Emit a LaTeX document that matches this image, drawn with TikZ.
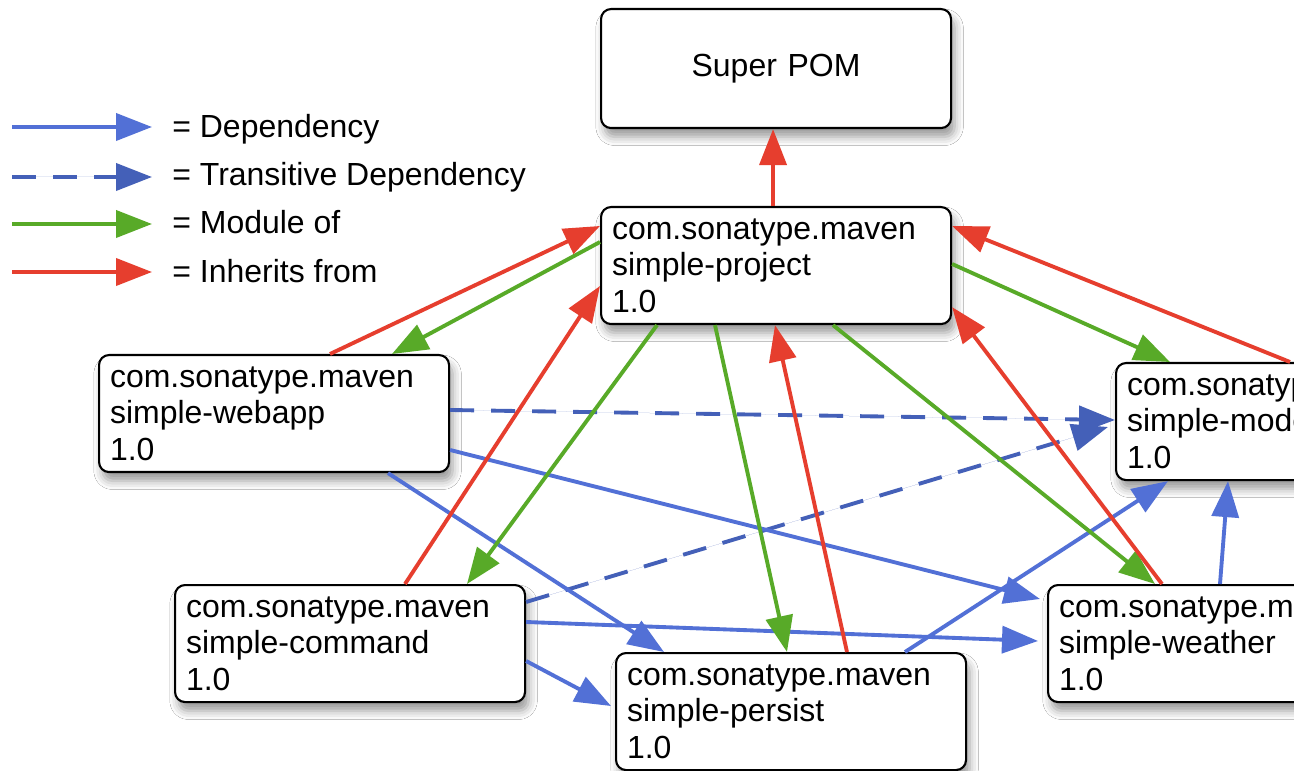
\documentclass[tikz,border=0pt]{standalone}
\usepackage{fontspec}
\setmainfont{Liberation Sans}
\usetikzlibrary{arrows.meta,shadows.blur}
\definecolor{depblue}{RGB}{82,112,214}
\definecolor{trblue}{RGB}{68,96,184}
\definecolor{modgreen}{RGB}{88,170,40}
\definecolor{inhred}{RGB}{230,62,46}
\tikzset{
  pombox/.style={draw=black, line width=1.2pt, rounded corners=0.2cm, fill=white,
    minimum width=7cm, minimum height=2.34cm, text width=6.56cm,
    inner xsep=0.22cm, inner ysep=0pt, align=left, anchor=north west,
    font=\fontsize{18.2pt}{20.8pt}\selectfont,
    blur shadow={shadow xshift=2pt, shadow yshift=-5pt, shadow blur radius=5pt, shadow opacity=40}},
  conn/.style={line width=2.2pt, -{Triangle[length=0.72cm,width=0.54cm]}},
  dep/.style={conn, draw=depblue, fill=depblue},
  trdep/.style={conn, draw=trblue, fill=trblue, dash pattern=on 0.48cm off 0.34cm},
  modof/.style={conn, draw=modgreen, fill=modgreen},
  inh/.style={conn, draw=inhred, fill=inhred},
  legtext/.style={anchor=base west, inner sep=0pt, font=\fontsize{18.2pt}{20.8pt}\selectfont}
}
\begin{document}
\begin{tikzpicture}
\clip (0,0) rectangle (25.88,-15.42);
\fill[white] (0,0) rectangle (25.88,-15.42);

% boxes
\node[pombox, align=center, minimum height=2.38cm] (superpom) at (12.0,-0.16) {Super POM};
\node[pombox] (project) at (12.0,-4.12) {com.sonatype.maven\\simple-project\\1.0};
\node[pombox] (webapp) at (1.96,-7.08) {com.sonatype.maven\\simple-webapp\\1.0};
\node[pombox] (model) at (22.30,-7.24) {com.sonatype.maven\\simple-model\\1.0};
\node[pombox] (command) at (3.48,-11.68) {com.sonatype.maven\\simple-command\\1.0};
\node[pombox] (weather) at (20.94,-11.68) {com.sonatype.maven\\simple-weather\\1.0};
\node[pombox] (persist) at (12.30,-13.04) {com.sonatype.maven\\simple-persist\\1.0};

% legend
\coordinate (l1a) at (0.24,-2.54); \coordinate (l1b) at (3.04,-2.54);
\coordinate (l2a) at (0.24,-3.54); \coordinate (l2b) at (3.04,-3.54);
\coordinate (l3a) at (0.24,-4.48); \coordinate (l3b) at (3.04,-4.48);
\coordinate (l4a) at (0.24,-5.44); \coordinate (l4b) at (3.04,-5.44);
\draw[dep] (l1a) -- (l1b);
\draw[trdep] (l2a) -- (l2b);
\draw[modof] (l3a) -- (l3b);
\draw[inh] (l4a) -- (l4b);
\node[legtext] (t1) at (3.44,-2.76) {= Dependency};
\node[legtext] (t2) at (3.44,-3.72) {= Transitive Dependency};
\node[legtext] (t3) at (3.44,-4.68) {= Module of};
\node[legtext] (t4) at (3.44,-5.66) {= Inherits from};

% transitive dependencies
\draw[trdep] ([shift={(0,-1.12)}]webapp.north east) -- ([shift={(0,-1.16)}]model.north west);
\draw[trdep] ([shift={(0,-0.36)}]command.north east) -- ([shift={(-0.14,-1.3)}]model.north west);

% dependencies
\draw[dep] ([shift={(0,-1.92)}]webapp.north east) -- ([shift={(-0.14,-0.3)}]weather.north west);
\draw[dep] ([shift={(5.8,0)}]webapp.south west) -- ([shift={(0.98,0)}]persist.north west);
\draw[dep] ([shift={(0,-0.76)}]command.north east) -- ([shift={(-0.18,-1.14)}]weather.north west);
\draw[dep] ([shift={(0,-1.54)}]command.north east) -- ([shift={(-0.08,-1.08)}]persist.north west);
\draw[dep] ([shift={(5.8,0)}]persist.north west) -- ([shift={(1.06,0)}]model.south west);
\draw[dep] ([shift={(3.46,0)}]weather.north west) -- ([shift={(2.26,0)}]model.south west);

% modules
\draw[modof] ([shift={(0,-0.72)}]project.north west) -- ([shift={(5.88,0)}]webapp.north west);
\draw[modof] ([shift={(1.14,0)}]project.south west) -- ([shift={(5.86,0)}]command.north west);
\draw[modof] ([shift={(2.3,0)}]project.south west) -- ([shift={(3.44,0)}]persist.north west);
\draw[modof] ([shift={(4.66,0)}]project.south west) -- ([shift={(2.16,0)}]weather.north west);
\draw[modof] ([shift={(0,-1.16)}]project.north east) -- ([shift={(1.1,0)}]model.north west);

% inheritance
\draw[inh] ([xshift=-0.06cm]project.north) -- ([xshift=-0.06cm]superpom.south);
\draw[inh] ([shift={(4.64,0)}]webapp.north west) -- ([shift={(0,-0.4)}]project.north west);
\draw[inh] ([shift={(4.62,0)}]command.north west) -- ([shift={(0,-1.6)}]project.north west);
\draw[inh] ([shift={(4.64,0)}]persist.north west) -- ([shift={(3.5,0)}]project.south west);
\draw[inh] ([shift={(2.3,0)}]weather.north west) -- ([shift={(0,0.36)}]project.south east);
\draw[inh] ([shift={(3.5,0)}]model.north west) -- ([shift={(0,-0.4)}]project.north east);
\end{tikzpicture}
\end{document}
